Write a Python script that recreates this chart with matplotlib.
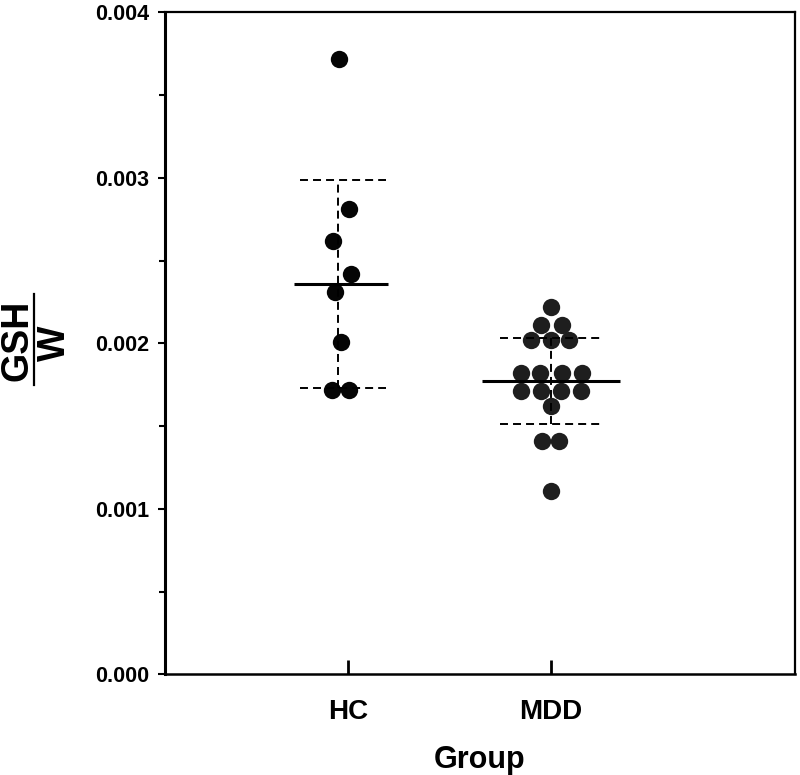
import matplotlib
matplotlib.use("Agg")
import matplotlib.pyplot as plt
from matplotlib.ticker import MultipleLocator, FormatStrFormatter
from matplotlib.lines import Line2D

plt.rcParams['font.family'] = ['Liberation Sans', 'DejaVu Sans']
plt.rcParams['font.weight'] = 'bold'

# data
groups = ['HC', 'MDD']
hc_values = [0.00372, 0.00281, 0.00262, 0.00242, 0.00231, 0.00201, 0.00172, 0.00172]
mdd_values = [0.00222,
              0.00211, 0.00211,
              0.00202, 0.00202, 0.00202,
              0.00182, 0.00182, 0.00182, 0.00182,
              0.00171, 0.00171, 0.00171, 0.00171,
              0.00162,
              0.00141, 0.00141,
              0.00111]
group_means = [0.00236, 0.00177]
group_sds = [0.00063, 0.00026]

# beeswarm-ish horizontal offsets, as drawn in the original
hc_dx = [-0.043, 0.006, -0.072, 0.016, -0.063, -0.033, -0.077, 0.006]
mdd_dx = [0.0,
          -0.049, 0.054,
          -0.098, 0.0, 0.09,
          -0.15, -0.055, 0.054, 0.152,
          -0.147, -0.049, 0.049, 0.148,
          0.0,
          -0.044, 0.04,
          0.0]

pos = [1, 2]
vline_shift = [-0.05, 0.0]
mean_shift = [-0.035, 0.0]
cap_shift = [-0.025, 0.0]
mean_half = [0.23, 0.34]
cap_half = [0.21, 0.25]

fig = plt.figure(figsize=(8, 7.75), dpi=100)
ax = fig.add_axes([0.20625, 0.13, 0.7875, 0.854])

ax.plot([pos[0] + d for d in hc_dx], hc_values, 'o', color='#050505',
        markersize=12.5, markeredgewidth=0, zorder=2)
ax.plot([pos[1] + d for d in mdd_dx], mdd_values, 'o', color='#1e1e1e',
        markersize=12.5, markeredgewidth=0, zorder=2)

dash = (4.1, 2.6)
for i in range(2):
    m, s = group_means[i], group_sds[i]
    xv = pos[i] + vline_shift[i]
    ax.plot([xv, xv], [m - s, m + s], color='black', lw=1.4,
            dashes=dash, zorder=3)
    xc = pos[i] + cap_shift[i]
    for y in (m - s, m + s):
        ax.plot([xc - cap_half[i], xc + cap_half[i]], [y, y], color='black',
                lw=1.4, dashes=dash, zorder=3)
    xm = pos[i] + mean_shift[i]
    ax.plot([xm - mean_half[i], xm + mean_half[i]], [m, m], color='black',
            lw=2.2, solid_capstyle='butt', zorder=4)

ax.set_xlim(0.1, 3.2)
ax.set_ylim(0, 0.004)
ax.set_xticks(pos)
ax.set_xticklabels(groups, fontsize=20, fontweight='bold')
ax.yaxis.set_major_locator(MultipleLocator(0.001))
ax.yaxis.set_minor_locator(MultipleLocator(0.0005))
ax.yaxis.set_major_formatter(FormatStrFormatter('%.3f'))
for lab in ax.get_yticklabels():
    lab.set_fontsize(15.5)
    lab.set_fontweight('bold')

ax.tick_params(axis='x', direction='in', length=10, width=2, pad=18)
ax.tick_params(axis='y', which='major', direction='out', length=5, width=1.5, pad=6.5)
ax.tick_params(axis='y', which='minor', direction='out', length=4, width=1.5)

ax.spines['left'].set_linewidth(2.2)
ax.spines['bottom'].set_linewidth(1.8)
ax.spines['top'].set_linewidth(1.6)
ax.spines['right'].set_linewidth(1.6)

ax.set_xlabel('Group', fontsize=22, fontweight='bold', labelpad=14)

# y label drawn as a stacked fraction GSH / W
fig.text(18 / 800, 1 - 340 / 775, 'GSH', rotation=90, fontsize=27,
         fontweight='bold', ha='center', va='center')
fig.text(55 / 800, 1 - 343 / 775, 'W', rotation=90, fontsize=27,
         fontweight='bold', ha='center', va='center')
fig.add_artist(Line2D([34 / 800, 34 / 800], [1 - 294 / 775, 1 - 385 / 775],
                      color='black', lw=1.6, transform=fig.transFigure))

fig.savefig('out.png', dpi=100)
